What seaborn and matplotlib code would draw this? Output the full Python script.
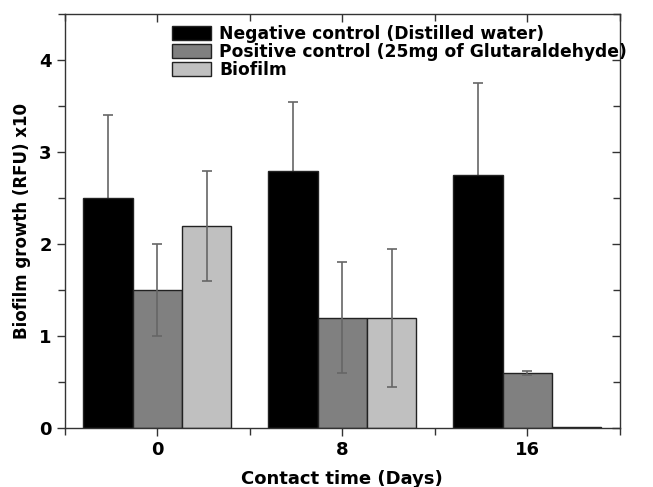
import numpy as np
import pandas as pd
import matplotlib
matplotlib.use("Agg")
import matplotlib.pyplot as plt
from matplotlib.ticker import MultipleLocator
import seaborn as sns

# values
days = ["0", "8", "16"]
groups = ["Negative control (Distilled water)",
          "Positive control (25mg of Glutaraldehyde)",
          "Biofilm"]
negative = [2.5, 2.8, 2.75]
positive = [1.5, 1.2, 0.6]
biofilm = [2.2, 1.2, 0.01]
negative_err = [0.9, 0.75, 1.0]
positive_err = [0.5, 0.6, 0.02]
biofilm_err = [0.6, 0.75, 0.0]
colors = ["#000000", "#808080", "#c0c0c0"]

df = pd.DataFrame({
    "day": days * 3,
    "group": [g for g in groups for _ in days],
    "value": negative + positive + biofilm,
})

sns.set_style("ticks")
plt.rcParams["font.family"] = ["DejaVu Sans"]
plt.rcParams["font.weight"] = "bold"
plt.rcParams["text.color"] = "black"
plt.rcParams["axes.labelcolor"] = "black"

fig = plt.figure(figsize=(6.53, 4.87), dpi=100)
ax = fig.add_axes([0.0995, 0.121, 0.8495, 0.85])

sns.barplot(data=df, x="day", y="value", hue="group", order=days, hue_order=groups,
            palette=colors, edgecolor="#222222", linewidth=1, errorbar=None,
            saturation=1, width=0.8, ax=ax)

errs = [negative_err, positive_err, biofilm_err]
bar_groups = list(ax.containers)
for i, cont in enumerate(bar_groups):
    xs = [b.get_x() + b.get_width() / 2 for b in cont]
    hs = [b.get_height() for b in cont]
    sel = [k for k in range(len(hs)) if errs[i][k] > 0]
    # black bars hide the lower half of their error bars
    ax.errorbar([xs[k] for k in sel], [hs[k] for k in sel],
                yerr=[errs[i][k] for k in sel],
                fmt="none", ecolor="#666666", elinewidth=1.2, capsize=3.6, capthick=1.2,
                zorder=0.5 if i == 0 else 5)

ax.set_xlim(-0.5, 2.5)
ax.set_ylim(0, 4.5)
ax.yaxis.set_major_locator(MultipleLocator(1))
ax.yaxis.set_minor_locator(MultipleLocator(0.5))
ax.set_xticks([-0.5, 0.5, 1.5, 2.5], minor=True)

ax.tick_params(axis="both", which="major", labelsize=13, length=6, width=1,
               color="#333333", labelcolor="black")
ax.tick_params(axis="both", which="minor", length=5, width=1, color="#333333")
ax.tick_params(axis="x", which="both", top=True, direction="out")
ax.tick_params(axis="y", which="both", right=True, direction="out")
# mirrored ticks point inward on top and right
for t in ax.xaxis.get_major_ticks() + ax.xaxis.get_minor_ticks():
    t.tick2line.set_marker(3)
for t in ax.yaxis.get_major_ticks() + ax.yaxis.get_minor_ticks():
    t.tick2line.set_marker(0)
for s in ax.spines.values():
    s.set_visible(True)
    s.set_linewidth(1)
    s.set_color("#333333")
for lab in ax.get_xticklabels() + ax.get_yticklabels():
    lab.set_fontweight("bold")

ax.set_xlabel("Contact time (Days)", fontsize=13, fontweight="bold", labelpad=8)
ax.set_ylabel("Biofilm growth (RFU) x10", fontsize=12, fontweight="bold", labelpad=6)

ax.legend(loc="upper left", bbox_to_anchor=(0.18, 0.99), frameon=False,
          handlelength=2.3, handleheight=0.85, handletextpad=0.5, labelspacing=0.0,
          borderaxespad=0, prop={"weight": "bold", "size": 12.3})

fig.savefig("out.png", dpi=100)
